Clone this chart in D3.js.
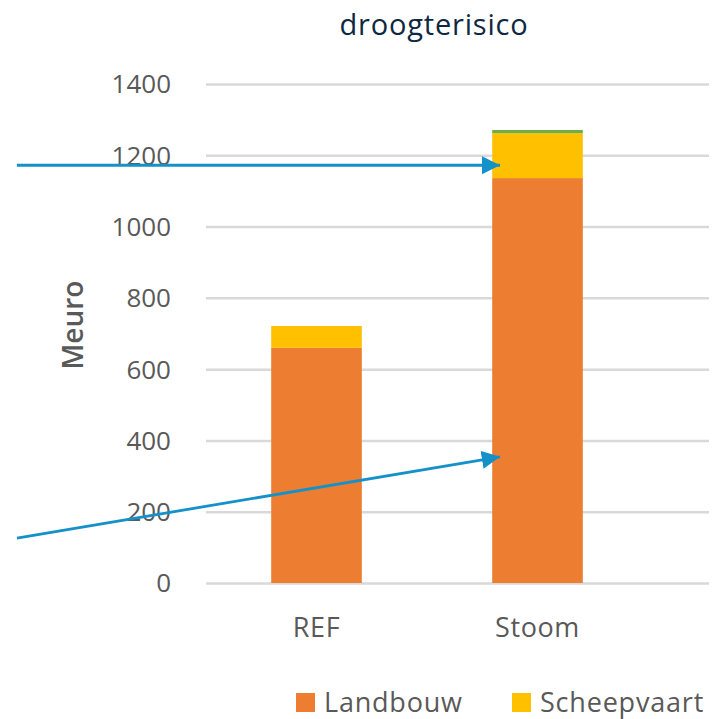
<!DOCTYPE html>
<html>
<head>
<meta charset="utf-8">
<script src="https://cdn.jsdelivr.net/npm/d3@7"></script>
<style>
  body { margin: 0; background: #fff; }
  text { font-family: "Open Sans", "Noto Sans", sans-serif; }
</style>
</head>
<body>
<script>
// gegevens
var categorieen = ["REF", "Stoom"]
var reeksen = ["Landbouw", "Scheepvaart", "Overig"]
var landbouw = [660, 1136]
var scheepvaart = [61, 126]
var overig = [0, 9]
var yTicks = [0, 200, 400, 600, 800, 1000, 1200, 1400]
var kleuren = ["#ED7D31", "#FFC000", "#70AD47"]
var legendaReeksen = ["Landbouw", "Scheepvaart"]   // de rest valt buiten beeld

// pijlen: x in pixels, y in Meuro
var pijlen = [
  {x0: 17, v0: 1172, x1: 500, v1: 1172},
  {x0: 17, v0: 126, x1: 500, v1: 354}
]

var W = 715, H = 719

var data = categorieen.map((c, i) => ({cat: c, Landbouw: landbouw[i], Scheepvaart: scheepvaart[i], Overig: overig[i]}))
var stapels = d3.stack().keys(reeksen)(data)

var svg = d3.select("body").append("svg")
  .attr("width", W).attr("height", H)

var x = d3.scaleBand()
  .domain(categorieen)
  .range([206, 648])
  .paddingInner(0.59)
  .paddingOuter(0.295)

var y = d3.scaleLinear()
  .domain([0, 1400])
  .range([583, 84])

var kleur = d3.scaleOrdinal(reeksen, kleuren)

// rasterlijnen + y-as
var yAs = svg.append("g")
  .attr("transform", "translate(206,0)")
  .call(d3.axisRight(y).tickValues(yTicks).tickSize(503).tickFormat(""))
yAs.select(".domain").remove()
yAs.selectAll("line").attr("stroke", "#d9d9d9").attr("stroke-width", 2.5)

svg.append("g").selectAll("text")
  .data(yTicks).enter().append("text")
  .attr("x", 171)
  .attr("y", d => y(d))
  .attr("dy", "0.36em")
  .attr("text-anchor", "end")
  .attr("fill", "#595959")
  .style("font-size", "26px")
  .text(d => d)

// balken
svg.append("g").selectAll("g")
  .data(stapels).enter().append("g")
  .attr("fill", d => kleur(d.key))
  .selectAll("rect")
  .data(d => d).enter().append("rect")
  .attr("x", d => x(d.data.cat))
  .attr("width", x.bandwidth())
  .attr("y", d => y(d[1]))
  .attr("height", d => y(d[0]) - y(d[1]))

// x-labels
svg.append("g").selectAll("text")
  .data(categorieen).enter().append("text")
  .attr("x", d => x(d) + x.bandwidth() / 2)
  .attr("y", 637)
  .attr("text-anchor", "middle")
  .attr("fill", "#595959")
  .style("font-size", "27px")
  .style("letter-spacing", "0.6px")
  .text(d => d)

// titel
svg.append("text")
  .attr("x", 434).attr("y", 35)
  .attr("text-anchor", "middle")
  .attr("fill", "#0e2841")
  .style("font-size", "29px")
  .style("letter-spacing", "0.8px")
  .text("droogterisico")

// as-titel
svg.append("text")
  .attr("transform", "translate(83,325) rotate(-90)")
  .attr("text-anchor", "middle")
  .attr("fill", "#595959")
  .style("font-size", "28px")
  .style("font-weight", "600")
  .text("Meuro")

// legenda
var legX = [296, 512]
var leg = svg.append("g").selectAll("g")
  .data(legendaReeksen).enter().append("g")
  .attr("transform", (d, i) => "translate(" + legX[i] + ",693)")
leg.append("rect").attr("width", 19).attr("height", 19).attr("fill", d => kleur(d))
leg.append("text")
  .attr("x", 28).attr("y", 19)
  .attr("fill", "#595959")
  .style("font-size", "27px")
  .style("letter-spacing", "0.8px")
  .text(d => d)

// pijlen
svg.append("defs").append("marker")
  .attr("id", "pijl")
  .attr("viewBox", "0 0 10 10")
  .attr("refX", 10).attr("refY", 5)
  .attr("markerWidth", 6.5).attr("markerHeight", 6.5)
  .attr("markerUnits", "strokeWidth")
  .attr("orient", "auto")
  .append("path").attr("d", "M0,0 L10,5 L0,10 z").attr("fill", "#1591c9")

svg.append("g").selectAll("line")
  .data(pijlen).enter().append("line")
  .attr("x1", d => d.x0).attr("y1", d => y(d.v0))
  .attr("x2", d => d.x1).attr("y2", d => y(d.v1))
  .attr("stroke", "#1591c9")
  .attr("stroke-width", 2.8)
  .attr("marker-end", "url(#pijl)")
</script>
</body>
</html>
